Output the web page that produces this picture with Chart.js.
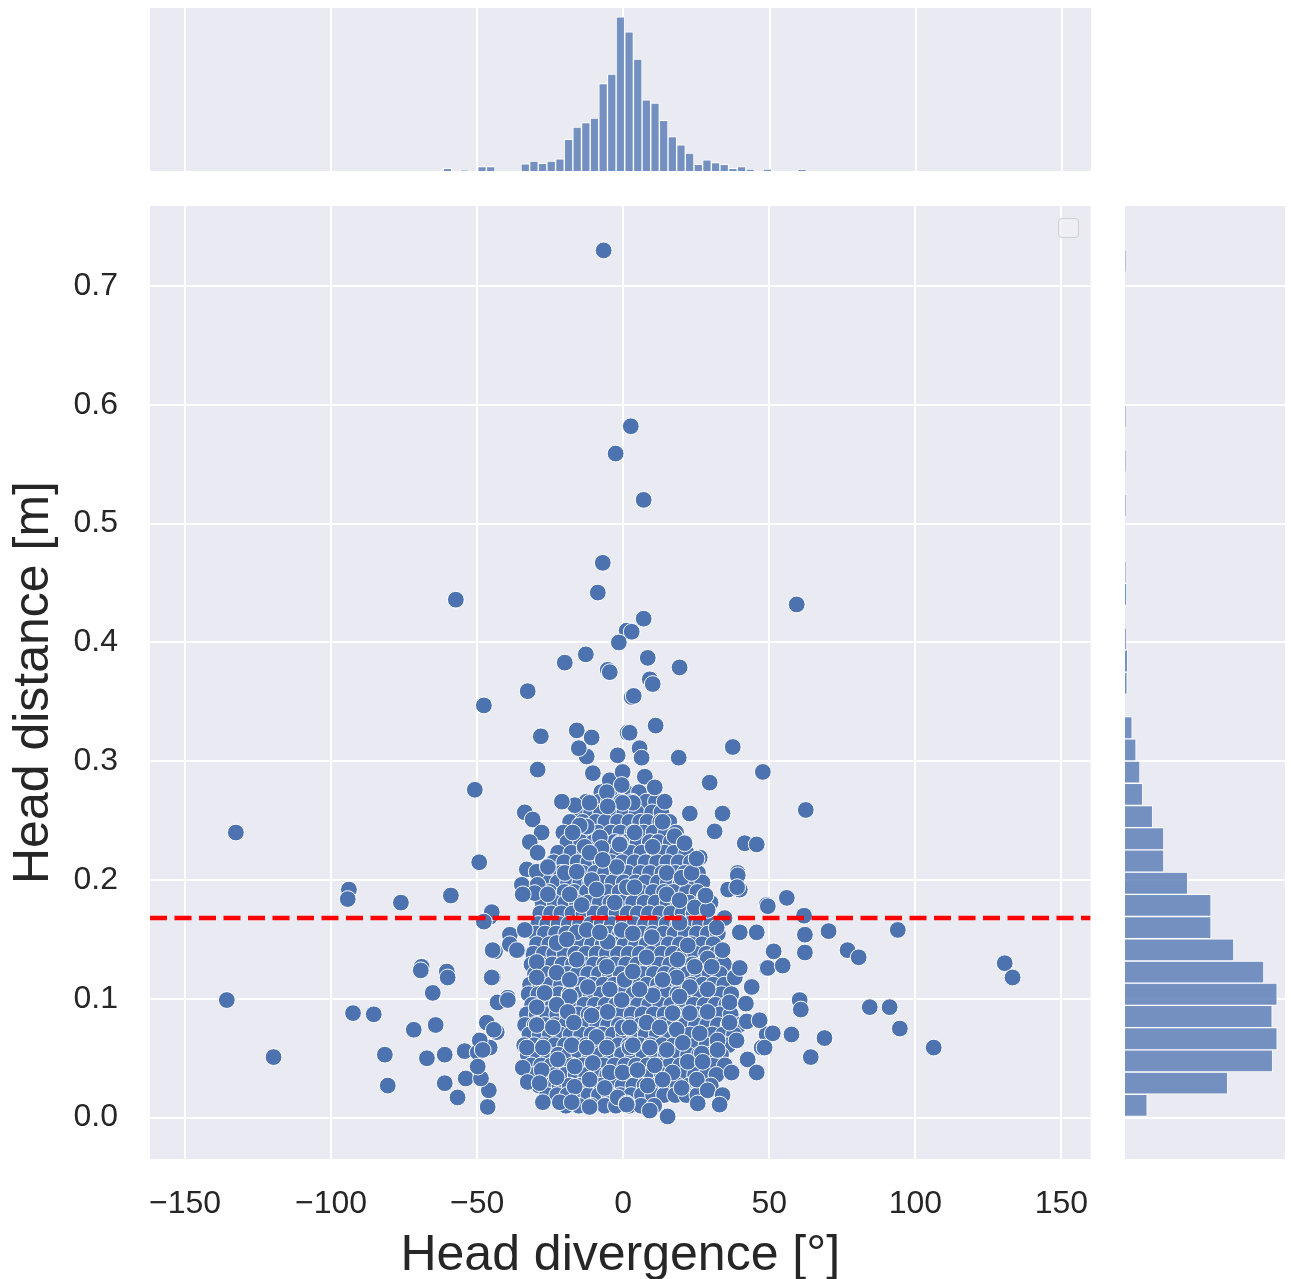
<!DOCTYPE html>
<html><head><meta charset="utf-8">
<script src="https://cdn.jsdelivr.net/npm/chart.js@4/dist/chart.umd.min.js"></script>
<style>
html,body{margin:0;padding:0;background:#fff;width:1291px;height:1279px;overflow:hidden;}
.box{position:absolute;}
#legendBox{position:absolute;left:1058px;top:218px;width:19px;height:18px;border:1.5px solid #cfcfd6;border-radius:4px;background:rgba(238,238,244,0.85);}
</style></head><body>
<div class="box" style="left:0;top:196px;width:1100px;height:1083px"><canvas id="main" width="1100" height="1083"></canvas></div>
<div class="box" style="left:150px;top:8px;width:941px;height:163px"><canvas id="top" width="941" height="163"></canvas></div>
<div class="box" style="left:1125px;top:206px;width:160px;height:953px"><canvas id="right" width="160" height="953"></canvas></div>
<div id="legendBox"></div>
<script>
// ---------- data ----------
const xTitle = 'Head divergence [°]';
const yTitle = 'Head distance [m]';
const xTickValues = [-150, -100, -50, 0, 50, 100, 150];
const yTickValues = [0, 0.1, 0.2, 0.3, 0.4, 0.5, 0.6, 0.7];
const xRange = [-162, 160];
const yRange = [-0.0348, 0.7674];
const threshold = 0.168;

// isolated points [divergence °, distance m]
const sparsePoints = [
[-6.7,0.730],[2.6,0.582],[-2.6,0.559],[7.0,0.520],[-7.0,0.467],[-8.7,0.442],[-57.3,0.436],[59.4,0.432],[7.0,0.420],[1.2,0.410],[2.9,0.409],[-1.5,0.400],[-12.8,0.390],[-20.0,0.383],[-5.3,0.377],[-4.6,0.375],[19.3,0.379],[8.4,0.387],[9.1,0.369],[10.1,0.365],[3.6,0.355],[-32.7,0.359],[-47.7,0.347],[11.1,0.330],[-28.2,0.321],[2.2,0.324],[-15.9,0.326],[-15.2,0.311],[37.5,0.312],[-10.8,0.320],[19.0,0.303],[-29.3,0.293],[47.8,0.291],[29.6,0.282],[-50.8,0.276],[-21.0,0.266],[34.0,0.256],[22.8,0.256],[62.5,0.259],[-132.6,0.240],[31.3,0.241],[41.6,0.231],[45.7,0.230],[-49.3,0.215],[25.1,0.218],[-93.9,0.192],[-94.3,0.184],[-76.1,0.181],[-59.0,0.187],[56.0,0.185],[49.5,0.178],[35.9,0.192],[39.0,0.194],[28.2,0.187],[61.9,0.170],[-45.0,0.173],[-47.7,0.165],[70.3,0.157],[94.0,0.158],[62.2,0.154],[51.5,0.140],[62.2,0.139],[76.8,0.141],[80.6,0.135],[49.5,0.126],[54.6,0.128],[130.6,0.130],[133.3,0.118],[-69.0,0.127],[-69.3,0.124],[-60.4,0.123],[-60.1,0.118],[-45.0,0.118],[-65.2,0.105],[-135.7,0.099],[60.4,0.099],[60.8,0.091],[84.4,0.093],[91.2,0.093],[-92.5,0.088],[-85.4,0.087],[94.7,0.075],[-64.2,0.078],[-71.7,0.074],[68.9,0.067],[57.6,0.070],[106.3,0.059],[64.2,0.051],[-119.7,0.051],[-81.6,0.053],[-61.1,0.053],[-67.2,0.050],[-80.6,0.027],[-61.1,0.029],[-56.7,0.017],[-46.4,0.009],[-53.9,0.033],[-46.0,0.023],[-48.7,0.033],[-54.3,0.056],[-49.8,0.055],[-49.1,0.065],[-46.7,0.080],[-44.3,0.074],[-43.0,0.097],[-39.5,0.099],[-44.7,0.141],[-38.8,0.146],[-36.4,0.141],[-49.8,0.043],[-48.1,0.057]
];

// points along the edge of the dense cluster
const edgePoints = [
[-0.2,0.290],[5.6,0.311],[6.3,0.303],[7.4,0.287],[10.8,0.278],[14.2,0.266],[3.3,0.265],[13.5,0.249],[3.9,0.240],[-1.2,0.231],[10.1,0.228],[17.6,0.237],[21.0,0.231],[14.9,0.206],[20.0,0.202],[23.4,0.206],[39.2,0.206],[26.2,0.219],
[2.9,0.354],[-12.5,0.304],[1.5,0.324],[-1.9,0.305],[-10.4,0.290],[-4.6,0.284],[-0.2,0.291],[-0.5,0.280],[-5.6,0.274],[-16.6,0.263],[-11.5,0.265],[-0.2,0.265],[-5.3,0.262],[-33.7,0.257],[-31.0,0.251],[-27.9,0.240],[-32.0,0.232],[-29.3,0.223],[-12.5,0.245],[-8.0,0.236],[-13.2,0.228],[-1.2,0.230],[-7.4,0.227],[-14.9,0.246],[-17.3,0.240],[-11.5,0.223],[-33.0,0.209],[-29.6,0.207],[-25.8,0.211],[-20.0,0.206],[-15.9,0.207],[-10.8,0.200],[-2.2,0.211],[-7.0,0.217],[-34.7,0.196],[-29.3,0.196],[1.2,0.194],
[-30.3,0.189],[-34.4,0.188],[-25.8,0.188],[-18.3,0.188],[-14.2,0.179],[-2.9,0.181],[-9.1,0.192],[-45.7,0.169],[-38.8,0.154],[-33.7,0.158],[-36.1,0.141],[-43.9,0.140],[-29.6,0.131],[-22.8,0.147],[-15.9,0.156],[-12.5,0.158],[-19.3,0.150],[-15.9,0.133],[-5.3,0.148],[-5.6,0.127],[-8.0,0.156],[-0.5,0.158],[-29.6,0.118],[-44.6,0.118],[-22.8,0.122],[-18.3,0.116],[-12.1,0.110],[-4.6,0.108],[0.5,0.116],[-26.9,0.105],[-39.5,0.101],[-43.0,0.097],[-29.6,0.093],[-18.3,0.102],[-0.5,0.099],[-22.8,0.095],[-19.0,0.089],[-10.8,0.086],[-5.3,0.089],[-43.3,0.072],[-29.6,0.078],[-24.1,0.076],[-16.9,0.080],[-9.1,0.068],[-0.2,0.076],[-45.7,0.059],[-33.0,0.059],[-27.5,0.059],[-17.6,0.061],[-12.5,0.059],[-5.6,0.059],[2.2,0.059],[-34.4,0.042],[-27.9,0.040],[-22.4,0.049],[-16.6,0.043],[-10.4,0.046],[-4.6,0.038],[-0.2,0.038],[-32.7,0.030],[-28.6,0.029],[-22.8,0.034],[-16.6,0.026],[-11.5,0.032],[-6.3,0.025],[-27.5,0.013],[-21.7,0.013],[-17.6,0.013],[-11.5,0.009],[-1.9,0.017],[1.2,0.012],
[3.9,0.194],[14.9,0.188],[19.3,0.183],[27.9,0.186],[36.4,0.192],[39.9,0.192],[49.1,0.179],[24.5,0.177],[28.9,0.175],[34.7,0.168],[32.0,0.160],[9.8,0.152],[3.3,0.155],[19.3,0.164],[22.1,0.145],[34.0,0.141],[28.9,0.134],[30.3,0.127],[38.2,0.118],[44.0,0.110],[49.1,0.126],[24.5,0.127],[8.0,0.135],[18.6,0.133],[3.3,0.123],[18.3,0.118],[22.8,0.110],[13.5,0.116],[10.1,0.103],[5.6,0.108],[28.9,0.108],[19.3,0.102],[16.9,0.088],[22.8,0.088],[28.9,0.089],[36.4,0.097],[42.3,0.081],[36.4,0.080],[2.2,0.076],[8.0,0.080],[12.5,0.076],[18.3,0.074],[26.2,0.071],[32.3,0.065],[38.8,0.065],[49.1,0.070],[3.3,0.061],[9.1,0.059],[14.9,0.057],[20.4,0.063],[26.9,0.054],[32.3,0.057],[47.4,0.059],[42.6,0.049],[37.1,0.038],[45.7,0.038],[4.9,0.040],[10.8,0.044],[16.9,0.038],[22.1,0.047],[27.2,0.047],[8.4,0.027],[13.5,0.032],[20.0,0.025],[25.2,0.032],[28.9,0.023],[34.0,0.019],[1.2,0.011],[9.1,0.006],[15.2,0.001],[25.5,0.012],
[33.0,0.011],[48.4,0.059],[51.2,0.071],[46.7,0.082],[42.0,0.096],[39.9,0.126],[45.7,0.156],[39.9,0.156],[39.2,0.204]
];

// dense core, read row by row: [distance, [divergences...]]
const coreRows = [
[0.274,[-7.5,-3.2,0.8,5.4]],
[0.266,[-12.6,-8.1,-4.9,-0.7,3.0,7.9,11.2]],
[0.257,[-15.3,-11.0,-7.6,-2.9,0.4,4.6,9.9,13.1]],
[0.249,[-18.2,-13.9,-9.4,-6.1,-1.8,2.1,5.8,8.3,12.7,15.8]],
[0.240,[-20.5,-16.0,-11.7,-8.8,-4.2,-0.9,3.3,7.0,10.4,14.6,18.1]],
[0.232,[-19.1,-14.4,-10.2,-6.7,-3.0,1.2,4.9,9.1,12.0,16.3,19.9]],
[0.223,[-22.3,-17.7,-13.1,-9.9,-5.2,-2.1,2.6,6.3,10.8,14.2,17.4,21.6]],
[0.215,[-23.8,-20.2,-15.6,-11.9,-7.8,-4.0,-0.3,3.9,7.7,11.6,15.1,19.0,23.2]],
[0.206,[-24.9,-21.3,-17.2,-13.8,-9.6,-6.2,-1.9,1.6,5.9,9.2,13.4,17.9,21.1,25.6]],
[0.198,[-26.3,-22.4,-18.9,-14.7,-11.3,-7.1,-3.6,0.2,4.2,7.6,11.9,15.3,19.7,23.0,27.1]],
[0.190,[-25.2,-20.1,-16.8,-12.4,-8.9,-5.3,-1.2,2.7,6.1,10.2,14.0,17.3,21.8,25.4]],
[0.181,[-27.6,-23.5,-19.8,-15.9,-12.1,-8.0,-4.4,-0.6,3.4,7.3,11.1,15.2,18.9,22.6,26.8,29.9]],
[0.172,[-28.4,-24.7,-21.2,-17.4,-13.6,-9.8,-6.3,-2.3,1.5,5.0,8.8,12.6,16.4,20.3,24.1,28.0]],
[0.163,[-29.1,-26.0,-22.1,-18.6,-14.8,-11.0,-7.4,-3.9,0.1,3.8,7.5,11.3,14.9,18.8,22.5,26.3,30.1]],
[0.155,[-30.0,-26.8,-23.0,-19.5,-15.7,-12.2,-8.6,-4.8,-1.1,2.6,6.4,10.1,13.8,17.6,21.4,25.2,29.0,32.4]],
[0.146,[-29.5,-25.3,-21.7,-17.9,-14.3,-10.7,-7.0,-3.3,0.5,4.4,8.0,11.8,15.6,19.4,23.3,27.0,30.9]],
[0.138,[-30.8,-27.2,-23.6,-20.0,-16.4,-12.8,-9.1,-5.6,-1.8,1.9,5.7,9.5,13.2,17.0,20.8,24.6,28.4,32.0]],
[0.129,[-31.4,-28.0,-24.3,-20.8,-17.2,-13.5,-10.0,-6.4,-2.7,1.0,4.8,8.6,12.4,16.1,19.9,23.7,27.5,31.2,34.5]],
[0.121,[-30.2,-26.5,-22.9,-19.2,-15.6,-12.0,-8.3,-4.6,-0.9,2.9,6.7,10.5,14.3,18.1,21.9,25.7,29.5,33.1]],
[0.112,[-31.9,-28.4,-24.9,-21.3,-17.7,-14.1,-10.4,-6.8,-3.1,0.6,4.3,8.1,11.9,15.7,19.5,23.3,27.1,30.8,34.6]],
[0.104,[-32.4,-29.0,-25.6,-22.0,-18.4,-14.8,-11.2,-7.5,-3.9,-0.2,3.5,7.2,11.0,14.8,18.6,22.4,26.2,30.0,33.6,37.0]],
[0.095,[-31.2,-27.7,-24.1,-20.6,-17.0,-13.3,-9.7,-6.0,-2.4,1.3,5.1,8.9,12.7,16.5,20.3,24.1,27.9,31.6,35.3]],
[0.087,[-33.0,-29.6,-26.1,-22.6,-19.0,-15.4,-11.8,-8.2,-4.5,-0.8,2.9,6.6,10.4,14.2,18.0,21.8,25.6,29.4,33.1,36.8]],
[0.078,[-33.6,-30.3,-26.8,-23.3,-19.7,-16.1,-12.5,-8.9,-5.2,-1.5,2.2,5.9,9.7,13.5,17.3,21.1,24.9,28.7,32.4,36.1,39.6]],
[0.070,[-32.1,-28.6,-25.1,-21.6,-18.0,-14.4,-10.8,-7.2,-3.5,0.2,3.9,7.7,11.5,15.3,19.1,22.9,26.7,30.5,34.2,37.9]],
[0.061,[-33.9,-30.5,-27.0,-23.5,-19.9,-16.3,-12.7,-9.1,-5.4,-1.7,2.0,5.7,9.5,13.3,17.1,20.9,24.7,28.5,32.3,36.0]],
[0.053,[-32.7,-29.2,-25.7,-22.2,-18.6,-15.0,-11.4,-7.8,-4.1,-0.4,3.3,7.0,10.8,14.6,18.4,22.2,26.0,29.8,33.5]],
[0.044,[-31.5,-28.1,-24.6,-21.1,-17.5,-13.9,-10.3,-6.7,-3.0,0.7,4.4,8.2,12.0,15.8,19.6,23.4,27.2,31.0,34.8]],
[0.036,[-30.4,-26.9,-23.4,-19.9,-16.3,-12.7,-9.1,-5.5,-1.8,1.9,5.6,9.4,13.2,17.0,20.8,24.6,28.4,31.9]],
[0.027,[-28.8,-25.3,-21.8,-18.3,-14.7,-11.1,-7.5,-3.9,-0.2,3.5,7.3,11.1,14.9,18.7,22.5,26.3,30.0]],
[0.019,[-26.1,-22.6,-19.1,-15.5,-11.9,-8.3,-4.7,-1.0,2.7,6.4,10.2,14.0,17.8,21.6,25.4]],
[0.010,[-19.6,-15.2,-10.9,-6.3,-2.5,2.0,6.1,10.6]]
];

// marginal histogram of divergence (bin centres °, counts)
const divBinCenters = [-60.22,-54.30,-48.38,-45.42,-33.58,-30.62,-27.66,-24.70,-21.74,-18.78,-15.82,-12.86,-9.90,-6.94,-3.98,-1.02,1.94,4.90,7.86,10.82,13.78,16.74,19.70,22.66,25.62,28.58,31.54,34.50,37.46,40.42,43.38,49.30,61.14];
const divBinCounts  = [5,1,8,8,13,18,14,18,22,57,79,87,95,157,174,277,250,201,128,122,91,62,47,32,12,20,15,12,5,8,3,3,2];
const divCountMax = 293;

// marginal histogram of distance (bin centres m, counts)
const distBinCenters = [0.01035,0.02905,0.04775,0.06645,0.08515,0.10385,0.12255,0.14125,0.15995,0.17865,0.19735,0.21605,0.23475,0.25345,0.27215,0.29085,0.30955,0.32825,0.36565,0.38435,0.40305,0.44045,0.45915,0.51525,0.55265,0.59005,0.72095];
const distBinCounts  = [40,185,266,274,265,274,250,196,155,155,113,70,70,50,32,27,20,13,4,5,2,3,1,1,1,1,1];
const distCountMax = 288;

// ---------- chart ----------
Chart.defaults.font.family = "'Liberation Sans', Arial, Helvetica, sans-serif";
Chart.defaults.color = '#262626';
const BG = '#eaeaf2';
const bgPlugin = {id:'bg', beforeDraw(chart){const {ctx, chartArea:a} = chart; ctx.save(); ctx.fillStyle = BG; ctx.fillRect(a.left, a.top, a.right - a.left, a.bottom - a.top); ctx.restore();}};
const fmtX = v => v < 0 ? '\u2212' + Math.abs(v) : String(v);
const common = {responsive:false, animation:false, devicePixelRatio:1, events:[], plugins:{legend:{display:false}, tooltip:{enabled:false}}};
const noPad = s => { s.paddingTop = 0; s.paddingBottom = 0; s.paddingLeft = 0; s.paddingRight = 0; };

const scatterData = [];
coreRows.forEach(([y, xs]) => xs.forEach(x => scatterData.push({x, y})));
edgePoints.forEach(([x, y]) => scatterData.push({x, y}));
sparsePoints.forEach(([x, y]) => scatterData.push({x, y}));

new Chart(document.getElementById('main'), {
  type:'scatter',
  data:{datasets:[
    {data: xRange.map(x => ({x, y: threshold})), showLine:true, borderColor:'#ff0000', borderWidth:4.5, borderDash:[17,7.5], pointRadius:0, order:0, fill:false},
    {data: scatterData, backgroundColor:'#4c72b0', borderColor:'#ffffff', pointRadius:8.4, borderWidth:1, pointHoverRadius:8.4, order:1}
  ]},
  options:Object.assign({}, common, {
    layout:{padding:{top:10, right:9, left:0, bottom:0}},
    scales:{
      x:{type:'linear', min:xRange[0], max:xRange[1],
         afterBuildTicks: s => { s.ticks = xTickValues.map(v => ({value:v})); },
         afterFit: s => { s.height = 120; noPad(s); },
         grid:{color:'#ffffff', lineWidth:2, drawTicks:false, offset:false}, border:{display:false},
         ticks:{padding:26, font:{size:32}, color:'#262626', maxRotation:0, autoSkip:false, callback: v => fmtX(v)},
         title:{display:true, text:xTitle, font:{size:50, lineHeight:0.92}, color:'#262626', padding:0}},
      y:{type:'linear', min:yRange[0], max:yRange[1],
         afterBuildTicks: s => { s.ticks = yTickValues.map(v => ({value:v})); },
         afterFit: s => { s.width = 150; noPad(s); },
         grid:{color:'#ffffff', lineWidth:2, drawTicks:false, offset:false}, border:{display:false},
         ticks:{padding:32, font:{size:32}, color:'#262626', autoSkip:false, callback: v => Number(v).toFixed(1)},
         title:{display:true, text:yTitle, font:{size:50, lineHeight:1}, color:'#262626', padding:{top:9, bottom:0}}}
    }
  }),
  plugins:[bgPlugin]
});

new Chart(document.getElementById('top'), {
  type:'bar',
  data:{datasets:[{data: divBinCenters.map((x, i) => ({x, y: divBinCounts[i]})), backgroundColor:'rgba(76,114,176,0.75)', borderColor:'#ffffff', borderWidth:1, barPercentage:1, categoryPercentage:1}]},
  options:Object.assign({}, common, {
    layout:{padding:0},
    scales:{
      x:{type:'linear', offset:false, min:xRange[0], max:xRange[1],
         afterBuildTicks: s => { s.ticks = xTickValues.map(v => ({value:v})); },
         afterFit: s => { s.height = 0; noPad(s); },
         grid:{color:'#ffffff', lineWidth:2, drawTicks:false, offset:false}, border:{display:false}, ticks:{display:false}},
      y:{display:false, min:0, max:divCountMax}
    }
  }),
  plugins:[bgPlugin]
});

new Chart(document.getElementById('right'), {
  type:'bar',
  data:{datasets:[{data: distBinCenters.map((y, i) => ({x: distBinCounts[i], y})), backgroundColor:'rgba(76,114,176,0.75)', borderColor:'#ffffff', borderWidth:1, barPercentage:1, categoryPercentage:1}]},
  options:Object.assign({}, common, {
    indexAxis:'y',
    layout:{padding:0},
    scales:{
      y:{type:'linear', offset:false, min:yRange[0], max:yRange[1],
         afterBuildTicks: s => { s.ticks = yTickValues.map(v => ({value:v})); },
         afterFit: s => { s.width = 0; noPad(s); },
         grid:{color:'#ffffff', lineWidth:2, drawTicks:false, offset:false}, border:{display:false}, ticks:{display:false}},
      x:{display:false, min:0, max:distCountMax}
    }
  }),
  plugins:[bgPlugin]
});
</script>
</body></html>
